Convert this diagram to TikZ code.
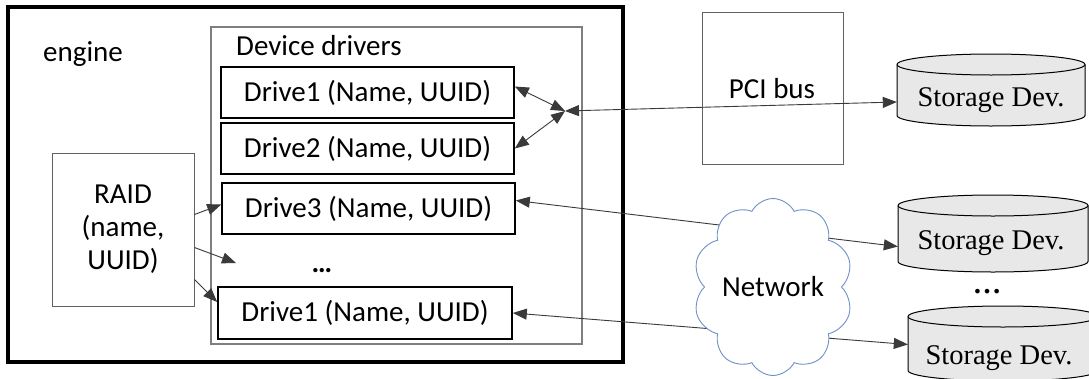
\documentclass[tikz,border=0pt]{standalone}
\usepackage{fontspec}
\setmainfont{Carlito}
\newfontfamily\devfont{Liberation Serif}
\usetikzlibrary{arrows.meta,shapes.symbols}
\definecolor{cloudblue}{HTML}{6F90C8}
\definecolor{linegray}{HTML}{3A3A3A}
\definecolor{boxgray}{HTML}{7F7F7F}
\definecolor{cylfill}{HTML}{E8E8E8}
\tikzset{
  txt/.style={font=\fontsize{29}{33}\selectfont},
  enginebox/.style={draw=black, line width=3.5pt},
  groupbox/.style={draw=boxgray, line width=1.3pt},
  drivebox/.style={draw=black, line width=1.6pt, txt, inner sep=0pt},
  plainbox/.style={draw=linegray!80, line width=1pt, txt, inner sep=0pt, align=center},
  tip/.style={Triangle[length=14pt,width=11pt]},
  link/.style={draw=linegray, line width=0.9pt, -{Triangle[length=14pt,width=11pt]}},
  biglink/.style={draw=linegray, line width=0.9pt, {Triangle[length=14pt,width=11pt]}-{Triangle[length=14pt,width=11pt]}},
  cyl/.style={draw=black, line width=1pt, fill=cylfill},
  devtxt/.style={font=\devfont\fontsize{28.5}{30}\selectfont, inner sep=0pt}
}
% storage cylinder: left, top, right, bottom (end ellipse half-height 10.5)
\newcommand\storagecyl[4]{%
  \pgfmathsetmacro\cylrx{(#3-#1)/2}%
  \filldraw[cyl] (#1,{#2+10.5}) -- (#1,{#4-10.5})
    arc[start angle=180, end angle=360, x radius=\cylrx pt, y radius=10.5pt]
    -- (#3,{#2+10.5})
    arc[start angle=0, end angle=180, x radius=\cylrx pt, y radius=10.5pt] -- cycle;
  \draw[cyl, fill=none] (#1,{#2+10.5})
    arc[start angle=180, end angle=360, x radius=\cylrx pt, y radius=10.5pt];
}
\begin{document}
\begin{tikzpicture}[x=1pt, y=-1pt]
\clip (0,0) rectangle (1089,378);
\fill[white] (0,0) rectangle (1089,378);

% engine and its contents
\node[enginebox, minimum width=615pt, minimum height=355pt, inner sep=0pt] (engine) at (315.5,184.5) {};
\node[txt, anchor=base west, inner sep=0pt] (enginelbl) at (43,61) {engine};

\node[groupbox, minimum width=371pt, minimum height=317pt, inner sep=0pt] (drivers) at (396.5,185.5) {};
\node[txt, anchor=base west, inner sep=0pt] (driverslbl) at (236,55) {Device drivers};

\node[drivebox, minimum width=293pt, minimum height=51pt] (d1) at (367.5,92.5) {Drive1 (Name, UUID)};
\node[drivebox, minimum width=293pt, minimum height=51pt] (d2) at (367.5,148.5) {Drive2 (Name, UUID)};
\node[drivebox, minimum width=293pt, minimum height=51pt] (d3) at (368.5,208.5) {Drive3 (Name, UUID)};
\node[txt, anchor=base, inner sep=0pt] (ddots) at (322,272) {\textbf{…}};
\node[drivebox, minimum width=294pt, minimum height=52pt] (d4) at (365,313) {Drive1 (Name, UUID)};

\node[plainbox, minimum width=142pt, minimum height=153pt] (raid) at (123,229.5) {RAID\\(name,\\UUID)};

% bus
\node[plainbox, minimum width=141pt, minimum height=152pt] (pci) at (772.5,88) {};
\node[txt, anchor=base, inner sep=0pt] (pcilbl) at (772,98) {PCI bus};

% storage devices
\storagecyl{897}{54}{1085}{126}
\node[devtxt, minimum width=188pt, minimum height=72pt] (st1) at (991,90) {};
\node[devtxt, anchor=base] (st1lbl) at (991,106) {Storage Dev.};
\storagecyl{898}{195}{1088}{272}
\node[devtxt, minimum width=190pt, minimum height=77pt] (st2) at (993,233.5) {};
\node[devtxt, anchor=base] (st2lbl) at (991,249) {Storage Dev.};
\node[devtxt, anchor=base] (stdots) at (987,293) {\textbf{…}};
\storagecyl{908}{306}{1098}{381}
\node[devtxt, minimum width=190pt, minimum height=75pt] (st3) at (1003,343.5) {};
\node[devtxt, anchor=base] (st3lbl) at (999,364) {Storage Dev.};

% connectors
\coordinate (hub) at (565,111);
\coordinate (dotsin) at (236,263);
\draw[biglink] (hub) -- ([yshift=6pt]d1.east);
\draw[biglink] (hub) -- (d2.east);
\draw[biglink] (hub) -- ([yshift=-12pt]st1.west);
\draw[biglink] ([yshift=8pt]d3.east) -- ([yshift=-13pt]st2.west);
\draw[biglink] (d4.east) -- ([yshift=-1pt]st3.west);

\draw[link] ([yshift=15pt]raid.east) -- ([yshift=4pt]d3.west);
\draw[link] ([yshift=-18pt]raid.east) -- (dotsin);
\draw[link] ([yshift=-50pt]raid.east) -- ([yshift=11pt]d4.west);

% network cloud on top of the links
\node[cloud, cloud puffs=10, cloud puff arc=125, cloud ignores aspect,
      draw=cloudblue, line width=0.9pt, fill=white,
      minimum width=160pt, minimum height=177pt, inner sep=0pt, txt] (net) at (773,287) {Network};
\end{tikzpicture}
\end{document}
